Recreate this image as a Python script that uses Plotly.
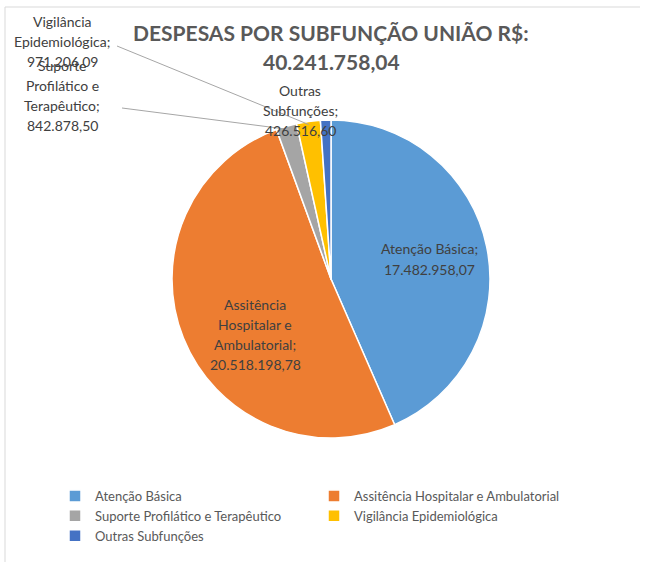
import math
import plotly.graph_objects as go

W, H = 650, 562

labels = ["Atenção Básica", "Assitência Hospitalar e Ambulatorial",
          "Suporte Profilático e Terapêutico", "Vigilância Epidemiológica",
          "Outras Subfunções"]
values = [17482958.07, 20518198.78, 842878.50, 971206.09, 426516.60]
label_lines = [["Atenção Básica;"],
               ["Assitência", "Hospitalar e", "Ambulatorial;"],
               ["Suporte", "Profilático e", "Terapêutico;"],
               ["Vigilância", "Epidemiológica;"],
               ["Outras", "Subfunções;"]]
colors = ["#5B9BD5", "#ED7D31", "#A5A5A5", "#FFC000", "#4472C4"]
title_line1 = "DESPESAS POR SUBFUNÇÃO UNIÃO R$:"
total = sum(values)


def br(v):
    s = f"{v:,.2f}"
    return s.replace(",", "X").replace(".", ",").replace("X", ".")


def px(x):
    return x / W


def py(y):
    return 1 - y / H


cx, cy, R = 331, 279, 159

fig = go.Figure(go.Pie(
    labels=labels, values=values, sort=False, direction="clockwise", rotation=0,
    marker=dict(colors=colors, line=dict(color="white", width=1.5)),
    textinfo="none", hoverinfo="label+value",
    domain=dict(x=[px(cx - R), px(cx + R)], y=[py(cy + R), py(cy - R)]),
))

lab_font = dict(family="Lato, Calibri, sans-serif", size=14, color="#404040")
LINE_H = 20
# label centre positions (pixels)
label_pos = [(429, 259), (255, 334), (62, 95), (62, 42), (300, 111)]
for i, (lx, ly) in enumerate(label_pos):
    lines = label_lines[i] + [br(values[i])]
    n = len(lines)
    for k, ln in enumerate(lines):
        yy = ly + (k - (n - 1) / 2) * LINE_H
        fig.add_annotation(x=px(lx), y=py(yy), xref="paper", yref="paper",
                           text=ln, showarrow=False, font=lab_font,
                           xanchor="center", yanchor="middle", align="center")

# leader lines
cum = 0
mids = []
for v in values:
    mids.append((cum + v / 2) / total)
    cum += v
starts = {2: (122, 108), 3: (117, 46)}
for i, (sx, sy) in starts.items():
    ang = 2 * math.pi * mids[i]
    ex = cx + (R - 3) * math.sin(ang)
    ey = cy - (R - 3) * math.cos(ang)
    fig.add_shape(type="line", xref="paper", yref="paper",
                  x0=px(sx), y0=py(sy), x1=px(ex), y1=py(ey),
                  line=dict(color="#A6A6A6", width=1))

# title
tfont = dict(family="Lato, Calibri, sans-serif", size=21, color="#595959")
fig.add_annotation(x=px(331), y=py(33), xref="paper", yref="paper",
                   text=f"<b>{title_line1}</b>", showarrow=False, font=tfont,
                   xanchor="center", yanchor="middle")
fig.add_annotation(x=px(331), y=py(62), xref="paper", yref="paper",
                   text=f"<b>{br(total)}</b>", showarrow=False, font=tfont,
                   xanchor="center", yanchor="middle")

# chart frame (top and left edges visible)
fig.add_shape(type="line", xref="paper", yref="paper",
              x0=px(5), y0=py(7), x1=px(640), y1=py(7),
              line=dict(color="#D9D9D9", width=1))
fig.add_shape(type="line", xref="paper", yref="paper",
              x0=px(5), y0=py(7), x1=px(5), y1=py(562),
              line=dict(color="#D9D9D9", width=1))

fig.update_layout(
    width=W, height=H, margin=dict(l=0, r=0, t=0, b=0),
    paper_bgcolor="white", plot_bgcolor="white",
    showlegend=True,
    legend=dict(orientation="h", x=px(55), y=py(481), xanchor="left", yanchor="top",
                font=dict(family="Lato, Calibri, sans-serif", size=13, color="#595959"),
                entrywidth=214, entrywidthmode="pixels", itemwidth=30),
)

fig.write_html("out.html", config={"displayModeBar": False},
               post_script="document.body.style.margin='0';")
